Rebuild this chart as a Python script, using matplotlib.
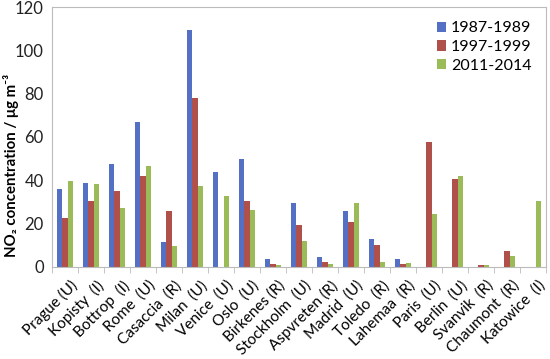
import matplotlib.pyplot as plt
import matplotlib.transforms as mtransforms
import numpy as np

plt.rcParams['font.family'] = ['Lato', 'DejaVu Sans']

sites = ['Prague (U)', 'Kopisty  (I)', 'Bottrop  (I)', 'Rome  (U)', 'Casaccia  (R)',
         'Milan  (U)', 'Venice  (U)', 'Oslo  (U)', 'Birkenes (R)', 'Stockholm  (U)',
         'Aspvreten (R)', 'Madrid  (U)', 'Toledo  (R)', 'Lahemaa  (R)', 'Paris  (U)',
         'Berlin  (U)', 'Svanvik  (R)', 'Chaumont  (R)', 'Katowice  (I)']

p1987 = [36, 38.6, 47.5, 66.8, 11.5, 109.6, 44, 50, 3.6, 29.5,
         4.5, 26, 13, 3.9, 0, 0, 0, 0, 0]
p1997 = [22.6, 30.6, 35.3, 42.2, 25.7, 77.9, 0, 30.6, 1.5, 19.2,
         2.2, 20.8, 10, 1.2, 57.6, 40.8, 1, 7.3, 0]
p2011 = [39.8, 38.3, 27, 46.6, 9.5, 37.6, 32.7, 26.5, 0.8, 12.2,
         1.2, 29.6, 2.5, 2, 24.5, 41.8, 0.7, 5.3, 30.4]

series = [('1987-1989', p1987, '#5470C4'),
          ('1997-1999', p1997, '#B0504A'),
          ('2011-2014', p2011, '#9BBB59')]

fig = plt.figure(figsize=(5.5, 3.59), dpi=100)
ax = fig.add_axes([0.0945, 0.2563, 0.8985, 0.7242])

x = np.arange(len(sites))
w = 0.21
for k, (name, vals, col) in enumerate(series):
    ax.bar(x + (k - 1) * w, vals, w, color=col, label=name, linewidth=0)

ax.set_xlim(-0.5, len(sites) - 0.5)
ax.set_ylim(0, 120)
ax.set_yticks(range(0, 121, 20))
ax.tick_params(axis='y', labelsize=12, length=0, pad=6, colors='#222222')

ax.set_xticks(x)
ax.set_xticklabels(sites, rotation=45, ha='right', rotation_mode='anchor', fontsize=11)
ax.set_xticks(np.arange(-0.5, len(sites), 1), minor=True)
ax.tick_params(axis='x', which='major', length=0, pad=8)
ax.tick_params(axis='x', which='minor', length=4, color='#bbbbbb')
shift = mtransforms.ScaledTranslation(5 / 100, 0, fig.dpi_scale_trans)
for lab in ax.get_xticklabels():
    lab.set_transform(lab.get_transform() + shift)

for s in ax.spines.values():
    s.set_color('#bbbbbb')
    s.set_linewidth(0.8)

ax.set_ylabel('NO₂ concentration / μg m⁻³', fontsize=10.8, fontweight='bold')
ax.yaxis.set_label_coords(-0.066, 0.39)

ax.legend(loc='upper right', frameon=False, fontsize=11.5, handlelength=0.6,
          handleheight=0.6, handletextpad=0.3, labelspacing=0.3,
          bbox_to_anchor=(1.0, 1.0))

fig.savefig('out.png', dpi=100)
